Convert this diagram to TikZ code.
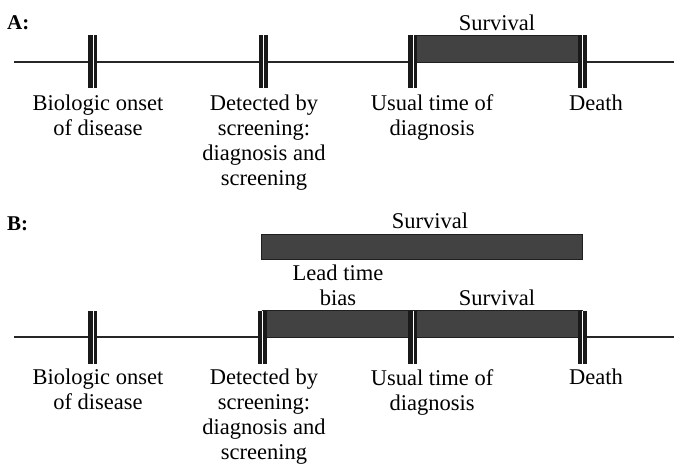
\documentclass[tikz,border=0pt]{standalone}
\usepackage{fontspec}
\setmainfont{Liberation Serif}
\usetikzlibrary{backgrounds}

\begin{document}
\begin{tikzpicture}[x=1pt, y=-1pt,
		tick/.style={fill=black!90, inner sep=0pt, minimum width=9pt, minimum height=53pt,
			path picture={\draw[white, line width=1.1pt] ([xshift=0.6pt]path picture bounding box.north) -- ([xshift=0.6pt]path picture bounding box.south);}},
		timeline/.style={draw=black!85, line width=1.4pt},
		bar/.style={fill=black!74, draw=black!88, line width=0.8pt},
		lbl/.style={align=center, anchor=north, inner sep=0pt, font=\fontsize{22.5}{25}\selectfont},
		part/.style={anchor=base west, inner sep=0pt, font=\fontsize{21}{24}\selectfont\bfseries}]
		\useasboundingbox (0,0) rectangle (674,465);
		
		% A: usual diagnosis
		\node[part] (partA) at (7,30) {A:};
		\coordinate (startA) at (14,62);
		\coordinate (endA) at (674,62);
		\node[tick] (onsetA) at (92.5,62) {};
		\node[tick] (screenA) at (263,62) {};
		\node[tick] (usualA) at (412.5,62) {};
		\node[tick] (deathA) at (582,62) {};
		\begin{scope}[on background layer]
		\draw[timeline] (startA) -- (endA);
		\draw[bar] (usualA.north) rectangle (deathA.center);
		\end{scope}
		\node[lbl] (survA) at (497,14.5) {Survival};
		\node[lbl] (onsetAtxt) at (98,94.5) {Biologic onset\\of disease};
		\node[lbl] (screenAtxt) at (264,94.5) {Detected by\\screening:\\diagnosis and\\screening};
		\node[lbl] (usualAtxt) at (432,94.5) {Usual time of\\diagnosis};
		\node[lbl] (deathAtxt) at (596,94.5) {Death};
		
		% B: detected by screening
		\node[part] (partB) at (7,230) {B:};
		\node[bar, minimum width=321pt, minimum height=25pt, inner sep=0pt] (survBtop) at (422,246.5) {};
		\node[lbl] (survBtoptxt) at (430,213) {Survival};
		\coordinate (startB) at (14,337);
		\coordinate (endB) at (674,337);
		\node[tick] (onsetB) at (92.5,337) {};
		\node[tick] (screenB) at (262,337) {};
		\node[tick] (usualB) at (412.5,337) {};
		\node[tick] (deathB) at (582,337) {};
		\begin{scope}[on background layer]
		\draw[timeline] (startB) -- (endB);
		\draw[bar] (screenB.north) rectangle (deathB.center);
		\end{scope}
		\node[lbl] (leadB) at (338,265) {Lead time\\bias};
		\node[lbl] (survB) at (497,290) {Survival};
		\node[lbl] (onsetBtxt) at (98,369) {Biologic onset\\of disease};
		\node[lbl] (screenBtxt) at (264,369) {Detected by\\screening:\\diagnosis and\\screening};
		\node[lbl] (usualBtxt) at (432,369) {Usual time of\\diagnosis};
		\node[lbl] (deathBtxt) at (596,369) {Death};
\end{tikzpicture}
\end{document}
